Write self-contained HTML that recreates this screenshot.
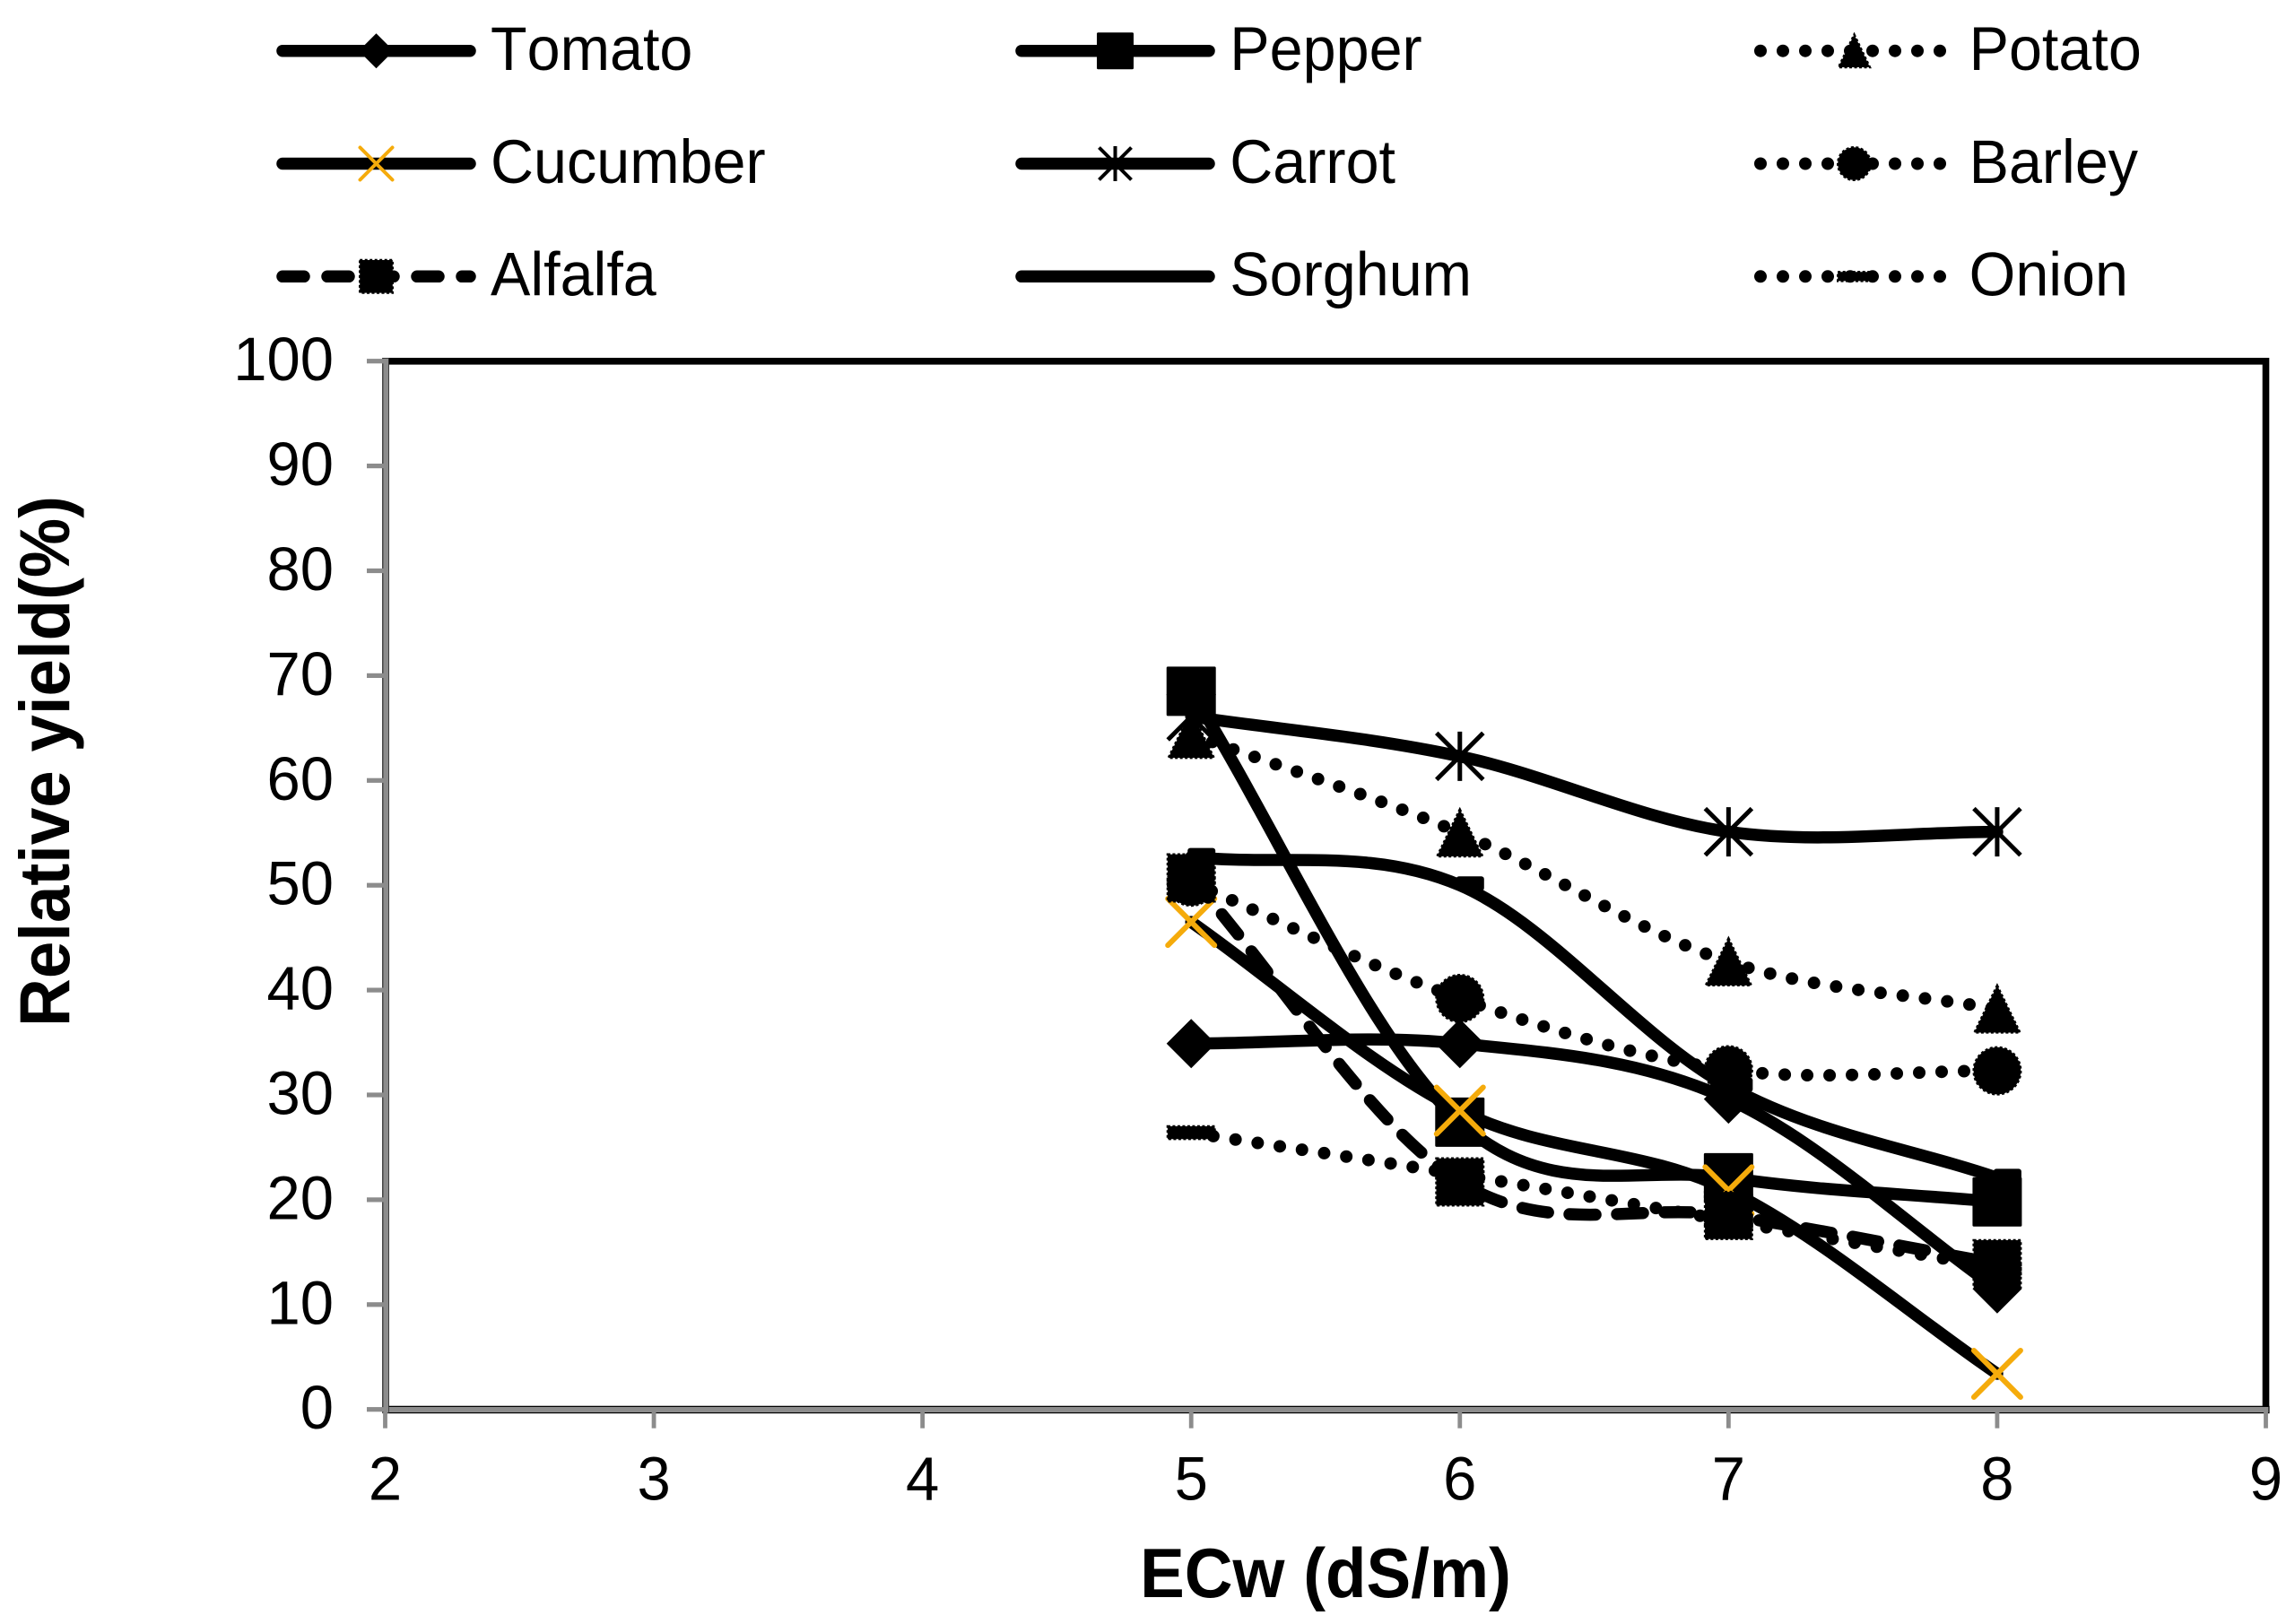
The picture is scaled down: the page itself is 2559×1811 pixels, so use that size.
<!DOCTYPE html>
<html lang="en">
<head>
<meta charset="utf-8">
<title>Relative yield vs ECw</title>
<style>
html,body{margin:0;padding:0;background:#fff;}
#chart-root{display:block;width:2559px;height:1811px;background:#fff;}
text{font-family:"Liberation Sans",Arial,sans-serif;fill:#000;font-kerning:none;}
</style>
</head>
<body>
<svg id="chart-root" xmlns="http://www.w3.org/2000/svg" width="2559" height="1811" viewBox="0 0 2559 1811">
  <g id="plot-frame"></g>
  <g id="series-layer"></g>
  <g id="axes-layer"></g>
  <g id="legend-layer"></g>
</svg>
<script>
// ---------- chart data ----------
const ecwValues = [5, 6, 7, 8];
const tomatoYield = [34.9, 34.9, 29.6, 11.5];
const pepperYield = [68.5, 27.4, 22.1, 19.8];
const potatoYield = [64.4, 55.0, 42.7, 38.2];
const cucumberYield = [46.5, 28.5, 20.9, 3.4];
const carrotYield = [66.1, 62.3, 55.1, 55.1];
const barleyYield = [50.3, 39.2, 32.4, 32.3];
const alfalfaYield = [50.7, 21.7, 18.5, 13.9];
const sorghumYield = [52.7, 50.0, 30.8, 22.1];
const onionYield = [26.4, 22.4, 18.0, 13.5];
const xTickLabels = [2, 3, 4, 5, 6, 7, 8, 9];
const yTickLabels = [0, 10, 20, 30, 40, 50, 60, 70, 80, 90, 100];
const seriesNames = ['Tomato', 'Pepper', 'Potato', 'Cucumber', 'Carrot', 'Barley', 'Alfalfa', 'Sorghum', 'Onion'];
const seriesValues = [tomatoYield, pepperYield, potatoYield, cucumberYield, carrotYield, barleyYield, alfalfaYield, sorghumYield, onionYield];
const seriesLineKinds = ['solid', 'solid', 'dotted', 'solid', 'solid', 'dotted', 'dashed', 'solid', 'dotted'];
const seriesMarkers = ['diamond', 'square', 'triangle', 'cross', 'star', 'circle', 'roughsquare', 'flag', 'bar'];
const xAxisTitle = 'ECw (dS/m)';
const yAxisTitle = 'Relative yield(%)';

// ---------- axis functions ----------
function xScale(v) { return 429.5 + (v - 2) * (2526.5 - 429.5) / 7; }
function yScale(v) { return 1571.7 - v * (1571.7 - 402.7) / 100; }

const NS = 'http://www.w3.org/2000/svg';
function make(tag, parent, attrs) {
  const el = document.createElementNS(NS, tag);
  for (const k in attrs) el.setAttribute(k, attrs[k]);
  parent.appendChild(el);
  return el;
}

function smoothPath(points) {
  let d = 'M' + points[0][0] + ' ' + points[0][1];
  const n = points.length;
  for (let i = 0; i < n - 1; i++) {
    const p0 = points[i], p1 = points[i + 1];
    const prev = points[i - 1], next = points[i + 2];
    const c1 = prev
      ? [p0[0] + (p1[0] - prev[0]) / 6, p0[1] + (p1[1] - prev[1]) / 6]
      : [p0[0] + (p1[0] - p0[0]) / 3, p0[1] + (p1[1] - p0[1]) / 3];
    const c2 = next
      ? [p1[0] - (next[0] - p0[0]) / 6, p1[1] - (next[1] - p0[1]) / 6]
      : [p1[0] - (p1[0] - p0[0]) / 3, p1[1] - (p1[1] - p0[1]) / 3];
    d += ' C' + c1[0] + ' ' + c1[1] + ' ' + c2[0] + ' ' + c2[1] + ' ' + p1[0] + ' ' + p1[1];
  }
  return d;
}

function lineStyle(kind, inLegend) {
  const s = { fill: 'none', stroke: '#000', 'stroke-width': 13.5, 'stroke-linejoin': 'round', 'stroke-linecap': 'round' };
  if (kind === 'dotted') { s['stroke-dasharray'] = '0 25'; s['stroke-width'] = 14; }
  else if (kind === 'dashed') { s['stroke-dasharray'] = inLegend ? '24 26' : '29 24'; }
  return s;
}

// Draws a marker of half-size r centred on (cx, cy)
function drawMarker(kind, parent, cx, cy, r) {
  const rough = { stroke: '#000', 'stroke-width': 2.4, 'stroke-dasharray': '3 2.5', fill: '#000' };
  if (kind === 'diamond') {
    return make('path', parent, { d: `M${cx} ${cy - r}L${cx + r} ${cy}L${cx} ${cy + r}L${cx - r} ${cy}Z`, fill: '#000' });
  }
  if (kind === 'square') {
    const q = r > 20 ? r : r + 1;
    return make('rect', parent, { x: cx - q + 1.5, y: cy - q + 1.5, width: 2 * q - 3, height: 2 * q - 3, fill: '#000', stroke: '#000', 'stroke-width': 3, 'stroke-linejoin': 'round' });
  }
  if (kind === 'roughsquare') {
    return make('rect', parent, Object.assign({ x: cx - r + 1.2, y: cy - r + 1.2, width: 2 * r - 2.4, height: 2 * r - 2.4 }, rough));
  }
  if (kind === 'triangle') {
    return make('path', parent, Object.assign({ d: `M${cx} ${cy - r + 1.2}L${cx + r - 2} ${cy + r - 1.2}L${cx - r + 2} ${cy + r - 1.2}Z` }, rough));
  }
  if (kind === 'circle') {
    return make('circle', parent, Object.assign({ cx: cx, cy: cy, r: r - 1.2 }, rough));
  }
  if (kind === 'bar') {
    return make('rect', parent, Object.assign({ x: cx - r + 1.2, y: cy - r * 0.26, width: 2 * r - 2.4, height: r * 0.52 }, rough));
  }
  if (kind === 'cross') {
    const a = r - 1.5;
    return make('path', parent, { d: `M${cx - a} ${cy - a}L${cx + a} ${cy + a}M${cx - a} ${cy + a}L${cx + a} ${cy - a}`, fill: 'none', stroke: '#F5AB0B', 'stroke-width': r > 20 ? 6 : 4, 'stroke-linecap': 'round' });
  }
  if (kind === 'star') {
    const a = r - 1.5;
    return make('path', parent, { d: `M${cx - a} ${cy - a}L${cx + a} ${cy + a}M${cx - a} ${cy + a}L${cx + a} ${cy - a}M${cx} ${cy - r}L${cx} ${cy + r}`, fill: 'none', stroke: '#000', 'stroke-width': r > 20 ? 5 : 4 });
  }
  if (kind === 'flag') {
    if (r < 25) return null;
    return make('rect', parent, { x: cx - 4, y: cy - 10, width: 31, height: 16, rx: 3, fill: '#000' });
  }
  return null;
}

// ---------- plot frame ----------
const frame = document.getElementById('plot-frame');
const axes = document.getElementById('axes-layer');
const series = document.getElementById('series-layer');
const legend = document.getElementById('legend-layer');

const plotBg = make('rect', frame, { x: 430, y: 402.8, width: 2096.5, height: 1168.9, fill: '#fff', stroke: '#000', 'stroke-width': 7.6 });



// ---------- series ----------
seriesNames.forEach(function (name, i) {
  const key = name.toLowerCase();
  const g = make('g', series, {});
  
  
  const pts = seriesValues[i].map(function (v, j) { return [xScale(ecwValues[j]), yScale(v)]; });
  const path = make('path', g, Object.assign({ d: smoothPath(pts) }, lineStyle(seriesLineKinds[i], false)));
  
  
  pts.forEach(function (p, j) {
    const m = drawMarker(seriesMarkers[i], g, p[0], p[1], 27.5);
    if (m) {
      
      
    }
  });
});

// ---------- axes ----------
const xAxisLine = make('rect', axes, { x: 427, y: 1568.4, width: 2103, height: 7.2, fill: '#8c8c8c', stroke: '#000', 'stroke-width': 1.2 });


const yAxisLine = make('rect', axes, { x: 427, y: 399.5, width: 6.4, height: 1176, fill: '#8c8c8c', stroke: '#333', 'stroke-width': 0.8 });



yTickLabels.forEach(function (v) {
  const y = yScale(v);
  const tick = make('rect', axes, { x: 409, y: y - 2.6, width: 19, height: 5.2, fill: '#8c8c8c' });
  
  
  const label = make('text', axes, { 'text-anchor': 'end', 'font-size': 67, transform: 'translate(372 ' + (y + 21.5) + ') scale(1 1.02)' });
  label.textContent = String(v);
  
  
});

xTickLabels.forEach(function (v) {
  const x = xScale(v);
  const tick = make('rect', axes, { x: x - 2.4, y: 1575, width: 4.8, height: 17.7, fill: '#8c8c8c' });
  
  
  const label = make('text', axes, { 'text-anchor': 'middle', 'font-size': 67, transform: 'translate(' + x + ' 1672.5) scale(1 1.02)' });
  label.textContent = String(v);
  
  
});

const xTitle = make('text', axes, { 'text-anchor': 'middle', 'font-size': 74.5, 'font-weight': 'bold', transform: 'translate(1478 1781) scale(1 1.04)' });
xTitle.textContent = xAxisTitle;



const yTitle = make('text', axes, { 'text-anchor': 'middle', 'font-size': 74.5, 'font-weight': 'bold', transform: 'translate(77 849) rotate(-90) scale(1 1.065)' });
yTitle.textContent = yAxisTitle;



// ---------- legend ----------
seriesNames.forEach(function (name, i) {
  const key = name.toLowerCase();
  const col = i % 3, row = Math.floor(i / 3);
  const y = 56.7 + row * 125.8;
  const x0 = 315 + col * 824;
  const x1 = 524 + col * 824;
  const entry = make('g', legend, {});
  
  
  const line = make('path', entry, Object.assign({ d: 'M' + x0 + ' ' + y + 'L' + x1 + ' ' + y }, lineStyle(seriesLineKinds[i], true)));
  
  
  const m = drawMarker(seriesMarkers[i], entry, (x0 + x1) / 2, y, 19.5);
  if (m) {
    
    
  }
  const label = make('text', entry, { 'font-size': 66.5, transform: 'translate(' + (547 + col * 824.3) + ' ' + (78 + row * 125.8) + ') scale(1 1.035)' });
  label.textContent = name;
  
  
});
</script>
</body>
</html>
